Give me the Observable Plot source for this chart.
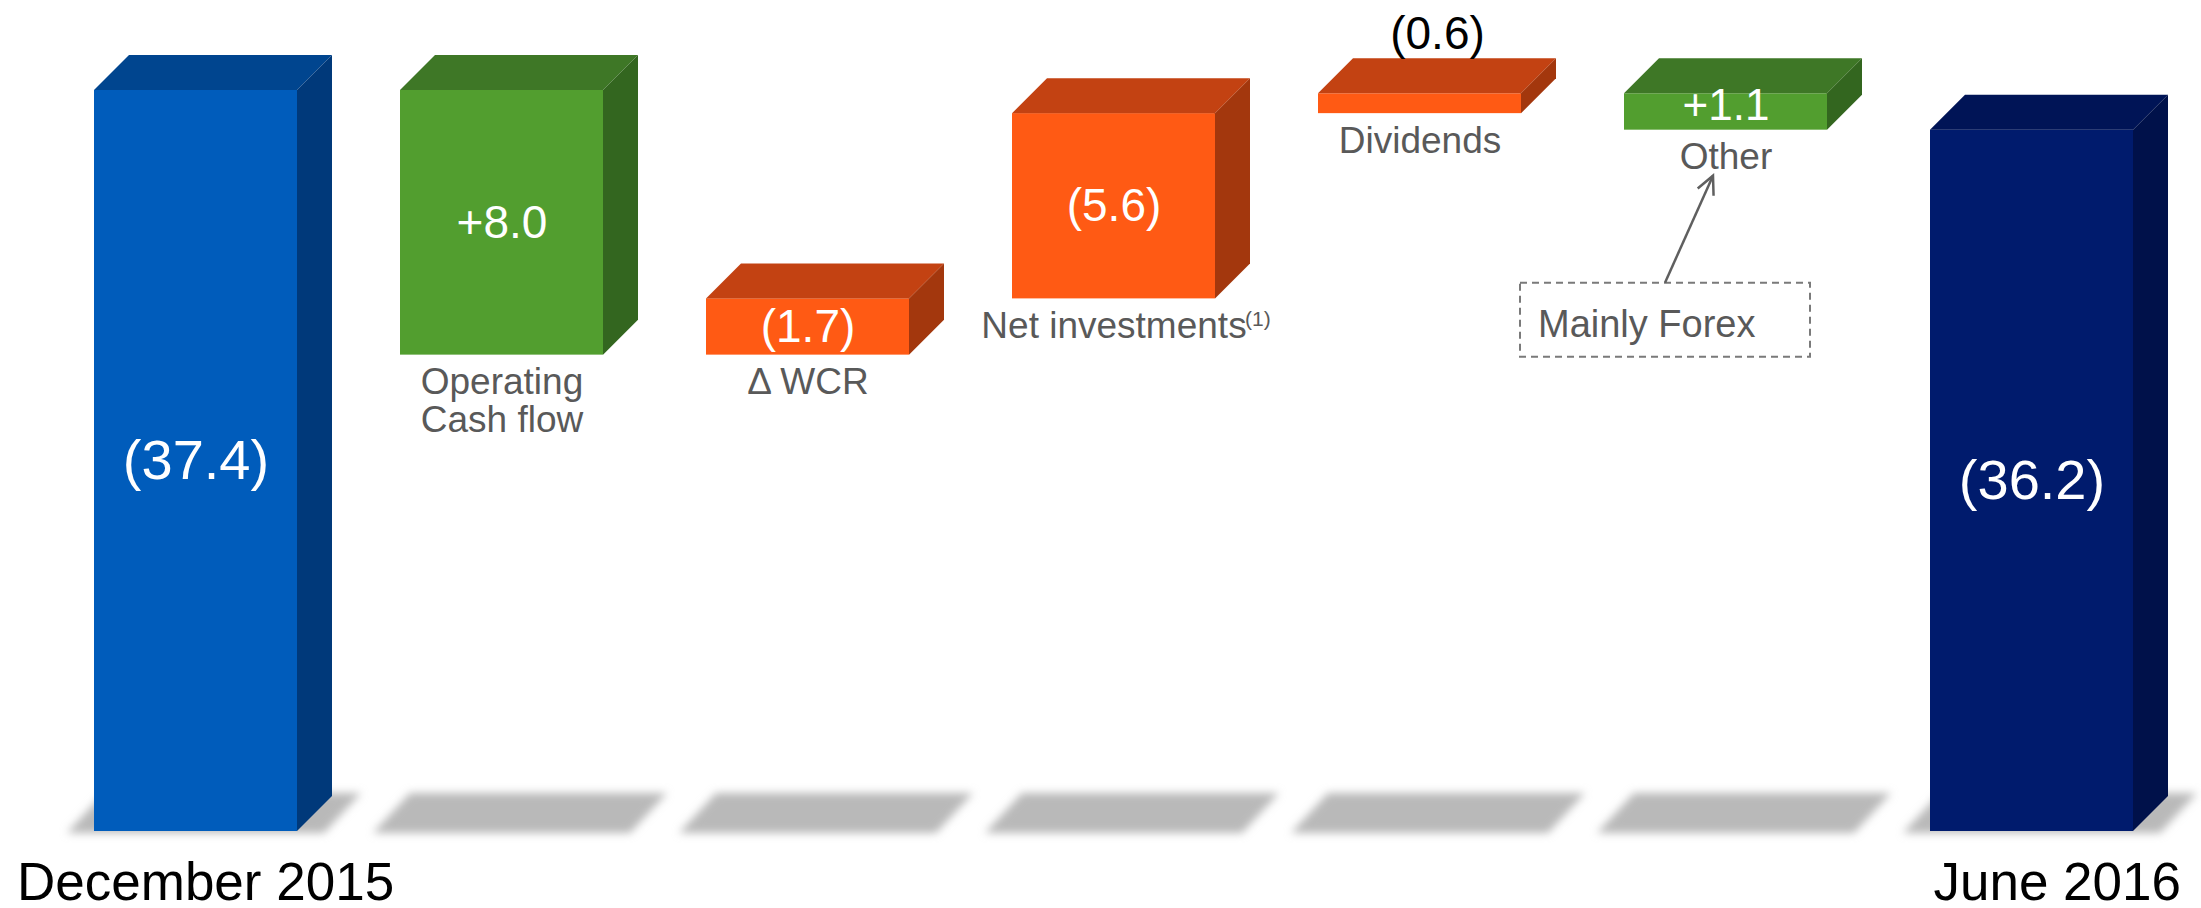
<!DOCTYPE html>
<html>
<head>
<meta charset="utf-8">
<script src="https://cdn.jsdelivr.net/npm/d3@7"></script>
<script src="https://cdn.jsdelivr.net/npm/@observablehq/plot@0.6"></script>
<style>
  html, body { margin: 0; padding: 0; background: #ffffff; }
  svg { display: block; }
</style>
</head>
<body>
<div id="chart"></div>
<script>
// ---------------- data ----------------
const categories = ["December 2015", "Operating Cash flow", "Δ WCR", "Net investments", "Dividends", "Other", "June 2016"];
const categoryLabels = ["December 2015", "Operating\nCash flow", "Δ WCR", "Net investments", "Dividends", "Other", "June 2016"];
const openingNetDebt = 37.4;
const closingNetDebt = 36.2;
// cash impact of each step (positive = reduces net debt)
const cashImpacts = [8.0, -1.7, -5.6, -0.6, 1.1];
const valueLabels = ["(37.4)", "+8.0", "(1.7)", "(5.6)", "(0.6)", "+1.1", "(36.2)"];
const axisDomain = [15, 40.12];
const footnoteMark = "(1)";
const footnoteTarget = "Net investments";
const annotationTarget = "Other";
const annotationText = "Mainly Forex";

// ---------------- styles ----------------
const palette = {
  open:    {front: "#005CBB", top: "#00458F", side: "#00397A"},
  inflow:  {front: "#529E2F", top: "#3E7726", side: "#33661F"},
  outflow: {front: "#FF5A14", top: "#C34212", side: "#A3370D"},
  close:   {front: "#001B6D", top: "#001456", side: "#00114A"}
};
const DEPTH = 35;
const FONT = "'Liberation Sans', Arial, Helvetica, sans-serif";

// ---------------- waterfall rows ----------------
const rows = [];
let level = openingNetDebt;
rows.push({cat: categories[0], lo: axisDomain[0], hi: openingNetDebt, kind: "open", value: valueLabels[0], label: categoryLabels[0]});
cashImpacts.forEach((d, i) => {
  const next = level - d;
  rows.push({cat: categories[i + 1], lo: Math.min(level, next), hi: Math.max(level, next),
             kind: d > 0 ? "inflow" : "outflow", value: valueLabels[i + 1], label: categoryLabels[i + 1]});
  level = next;
});
rows.push({cat: categories[6], lo: axisDomain[0], hi: closingNetDebt, kind: "close", value: valueLabels[6], label: categoryLabels[6]});

const steps = rows.filter(d => d.kind === "inflow" || d.kind === "outflow");
const isTotal = d => d.kind === "open" || d.kind === "close";
const span = d => d.hi - d.lo;

// ---------------- custom render marks ----------------
const floorShadows = (index, scales) => {
  const {x, y} = scales;
  const bw = x.bandwidth();
  const g = d3.create("svg:g");
  const f = g.append("defs").append("filter").attr("id", "floorblur")
    .attr("x", "-20%").attr("y", "-60%").attr("width", "140%").attr("height", "220%");
  f.append("feGaussianBlur").attr("stdDeviation", 4.5);
  const y0 = y(axisDomain[0]) + 2;
  for (const r of rows) {
    const xl = x(r.cat) - 27, xr = x(r.cat) + bw + 27;
    g.append("path")
      .attr("d", `M${xl},${y0}L${xr},${y0}L${xr + 37},${y0 - 40}L${xl + 37},${y0 - 40}Z`)
      .attr("fill", "#b9b9b9")
      .attr("filter", "url(#floorblur)");
  }
  return g.node();
};

const faces = (index, scales) => {
  const {x, y} = scales;
  const bw = x.bandwidth();
  const g = d3.create("svg:g");
  for (const r of rows) {
    const x1 = x(r.cat), x2 = x1 + bw, yt = y(r.hi), yb = y(r.lo);
    const c = palette[r.kind];
    g.append("path")
      .attr("d", `M${x1},${yt}L${x2},${yt}L${x2 + DEPTH},${yt - DEPTH}L${x1 + DEPTH},${yt - DEPTH}Z`)
      .attr("fill", c.top);
    g.append("path")
      .attr("d", `M${x2},${yt}L${x2 + DEPTH},${yt - DEPTH}L${x2 + DEPTH},${yb - DEPTH}L${x2},${yb}Z`)
      .attr("fill", c.side);
  }
  return g.node();
};

const annotationFrame = (index, scales) => {
  const {x, y} = scales;
  const r = rows.find(d => d.cat === annotationTarget);
  const bx = x(r.cat), by = y(r.lo);
  const g = d3.create("svg:g");
  g.append("rect")
    .attr("x", bx - 104).attr("y", by + 153).attr("width", 290).attr("height", 74)
    .attr("fill", "none").attr("stroke", "#7a7a7a").attr("stroke-width", 2).attr("stroke-dasharray", "7 5");
  const tail = [bx + 41, by + 153], tip = [bx + 89, by + 46];
  g.append("line")
    .attr("x1", tail[0]).attr("y1", tail[1]).attr("x2", tip[0]).attr("y2", tip[1])
    .attr("stroke", "#5f5f5f").attr("stroke-width", 2.5);
  const ang = Math.atan2(tail[1] - tip[1], tail[0] - tip[0]);
  const len = 20, spread = 0.45;
  const p1 = [tip[0] + len * Math.cos(ang - spread), tip[1] + len * Math.sin(ang - spread)];
  const p2 = [tip[0] + len * Math.cos(ang + spread), tip[1] + len * Math.sin(ang + spread)];
  g.append("path")
    .attr("d", `M${p1[0]},${p1[1]}L${tip[0]},${tip[1]}L${p2[0]},${p2[1]}`)
    .attr("fill", "none").attr("stroke", "#5f5f5f").attr("stroke-width", 2.5).attr("stroke-linejoin", "miter");
  return g.node();
};

// ---------------- plot ----------------
const chart = Plot.plot({
  width: 2201,
  height: 908,
  marginTop: 0,
  marginBottom: 77,
  marginLeft: 91,
  marginRight: 65,
  x: {type: "band", domain: categories, paddingInner: 0.335, paddingOuter: 0, axis: null},
  y: {type: "linear", domain: axisDomain, axis: null},
  style: {fontFamily: FONT, background: "#ffffff", overflow: "visible"},
  marks: [
    floorShadows,
    Plot.barY(rows, {x: "cat", y1: "lo", y2: "hi", fill: d => palette[d.kind].front, inset: 0}),
    faces,
    // values inside the tall bars
    Plot.text(rows.filter(d => span(d) >= 1.5), {
      x: "cat", y: d => (d.lo + d.hi) / 2, text: "value", fill: "#ffffff",
      fontSize: d => isTotal(d) ? 56 : 46
    }),
    // values inside the short bars
    Plot.text(rows.filter(d => span(d) >= 1 && span(d) < 1.5), {
      x: "cat", y: d => (d.lo + d.hi) / 2, text: "value", fill: "#ffffff",
      fontSize: 44, dy: -6
    }),
    // values above thin bars
    Plot.text(rows.filter(d => span(d) < 1), {
      x: "cat", y: "hi", text: "value", fill: "#000000", fontSize: 46, dx: DEPTH / 2, dy: -60
    }),
    // step labels below bars
    Plot.text(steps, {
      x: "cat", y: "lo", text: "label", fill: "#595959", fontSize: 37,
      lineAnchor: "top", lineHeight: 1.03, dy: 12
    }),
    // footnote superscript
    Plot.text(steps.filter(d => d.cat === footnoteTarget), {
      x: "cat", y: "lo", text: () => footnoteMark, fill: "#595959", fontSize: 21,
      textAnchor: "start", lineAnchor: "top", dx: 131, dy: 12
    }),
    // period labels
    Plot.text(rows.filter(d => d.kind === "open"), {
      x: "cat", y: () => axisDomain[0], text: "label", fill: "#000000", fontSize: 53,
      textAnchor: "start", dx: -179, dy: 52
    }),
    Plot.text(rows.filter(d => d.kind === "close"), {
      x: "cat", y: () => axisDomain[0], text: "label", fill: "#000000", fontSize: 53,
      textAnchor: "end", dx: 149, dy: 52
    }),
    annotationFrame,
    Plot.text(rows.filter(d => d.cat === annotationTarget), {
      x: "cat", y: "lo", text: () => annotationText, fill: "#595959", fontSize: 38,
      textAnchor: "start", dx: -188, dy: 195
    })
  ]
});
document.getElementById("chart").appendChild(chart);
</script>
</body>
</html>
